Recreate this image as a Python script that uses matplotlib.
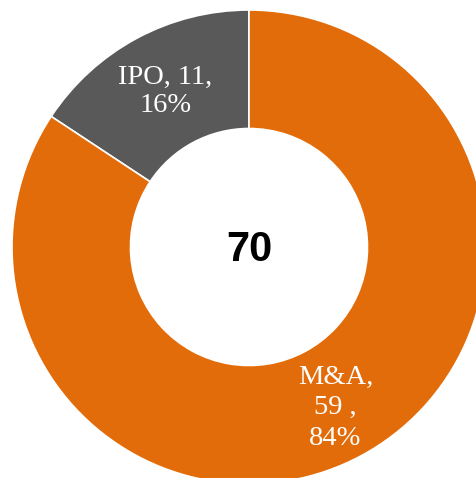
import numpy as np
import matplotlib
matplotlib.use("Agg")
import matplotlib.pyplot as plt

# ========== data ==========
categories = ["IPO", "M&A"]
values = [11, 59]
percents = [16, 84]
colors = ["#595959", "#E36C0A"]
label_texts = ["IPO, 11,\n16%", "M&A,\n59 ,\n84%"]
total = sum(values)

# ========== figure ==========
W, H = 477, 478
fig = plt.figure(figsize=(W / 100, H / 100), dpi=100)
ax = fig.add_axes([0, 0, 1, 1])

wedges, _ = ax.pie(values, colors=colors, startangle=90, counterclock=True,
                   radius=1.0,
                   wedgeprops=dict(width=0.5, edgecolor="white", linewidth=1.2))

# donut centre sits at pixel (249, 247), radius 237 px -> part of ring cut off
cx, cy, r_px = 249, 247, 237
ax.set_aspect("auto")
ax.set_xlim(-cx / r_px, (W - cx) / r_px)
ax.set_ylim(-(H - cy) / r_px, cy / r_px)
ax.axis("off")

# labels inside the ring
label_r = [0.745, 0.77]
spacing = [1.2, 1.28]
for w, txt, lr, ls in zip(wedges, label_texts, label_r, spacing):
    ang = np.deg2rad((w.theta1 + w.theta2) / 2)
    ax.text(lr * np.cos(ang), lr * np.sin(ang), txt, ha="center", va="center",
            color="white", fontsize=20.5, family="Liberation Serif",
            linespacing=ls)

ax.text(0, -0.012, str(total), ha="center", va="center", fontsize=30,
        fontweight="bold", family="Liberation Sans", color="black")

fig.savefig("out.png", dpi=100)
